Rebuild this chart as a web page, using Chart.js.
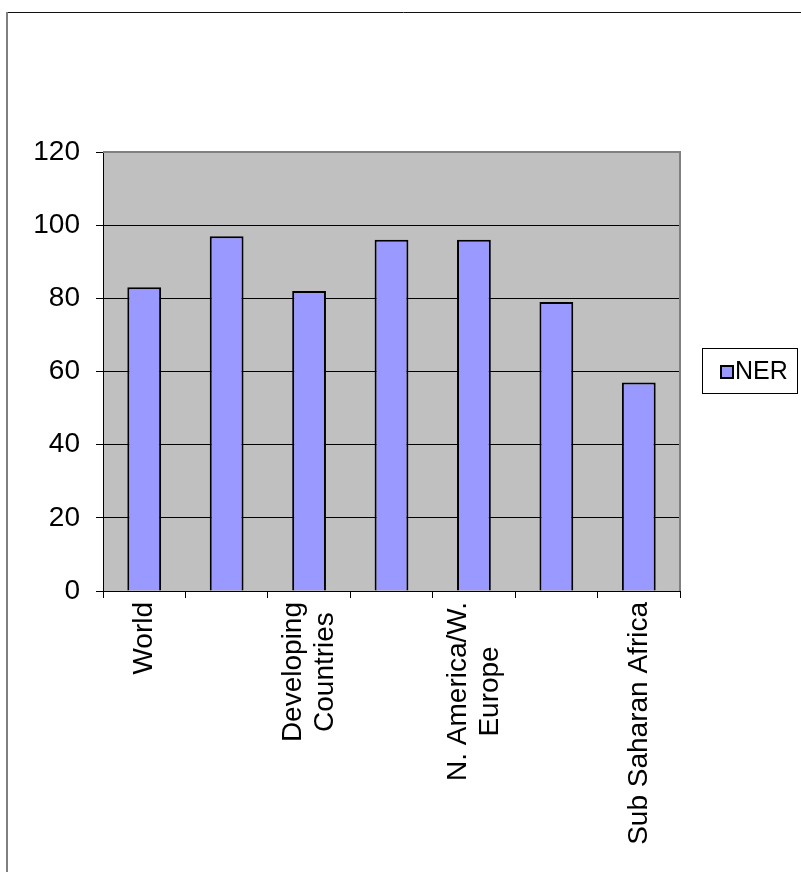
<!DOCTYPE html>
<html>
<head>
<meta charset="utf-8">
<script src="https://cdn.jsdelivr.net/npm/chart.js@4"></script>
<style>
  html, body { margin: 0; padding: 0; background: #ffffff; }
  #wrap { width: 801px; height: 872px; }
</style>
</head>
<body>
<div id="wrap"><canvas id="c" width="801" height="872"></canvas></div>
<script>
// Net enrolment ratio by region
const categories = [
  ["World"],
  [""],
  ["Developing", "Countries"],
  [""],
  ["N. America/W.", "Europe"],
  [""],
  ["Sub Saharan Africa"]
];
const nerValues = [83, 97, 82, 96, 96, 79, 57];
const yTicks = [0, 20, 40, 60, 80, 100, 120];
const seriesName = "NER";

const FONT = '"Liberation Sans", Arial, sans-serif';
const BAR_FILL = '#9999FF';
const PLOT_FILL = '#C0C0C0';

// Page frame, plot background, plot border, category labels and legend box
const decor = {
  id: 'decor',
  beforeDraw(chart) {
    const { ctx, chartArea: a } = chart;
    ctx.save();
    ctx.fillStyle = '#ffffff';
    ctx.fillRect(0, 0, chart.width, chart.height);
    // outer frame
    ctx.strokeStyle = '#111111';
    ctx.lineWidth = 1;
    ctx.beginPath();
    ctx.moveTo(6, 12.5);
    ctx.lineTo(chart.width, 12.5);
    ctx.stroke();
    ctx.strokeStyle = '#808080';
    ctx.lineWidth = 2;
    ctx.beginPath();
    ctx.moveTo(7, 12);
    ctx.lineTo(7, chart.height);
    ctx.stroke();
    // plot area
    ctx.fillStyle = PLOT_FILL;
    ctx.fillRect(a.left, a.top, a.right - a.left, a.bottom - a.top);
    ctx.restore();
  },
  afterDraw(chart) {
    const { ctx, chartArea: a } = chart;
    ctx.save();
    // plot border (top and right)
    ctx.strokeStyle = '#808080';
    ctx.lineWidth = 2;
    ctx.beginPath();
    ctx.moveTo(a.left, a.top);
    ctx.lineTo(a.right, a.top);
    ctx.lineTo(a.right, a.bottom);
    ctx.stroke();

    // rotated category labels, lines centred within each block
    const xs = chart.scales.x;
    ctx.font = '28px ' + FONT;
    ctx.fillStyle = '#000000';
    ctx.textAlign = 'center';
    ctx.textBaseline = 'middle';
    const lh = 32;
    categories.forEach((lines, i) => {
      const px = xs.getPixelForTick(i);
      const maxW = Math.max(...lines.map(l => ctx.measureText(l).width));
      const cy = xs.top + 11 + maxW / 2;
      ctx.save();
      ctx.translate(px, cy);
      ctx.rotate(-Math.PI / 2);
      lines.forEach((l, j) => {
        ctx.fillText(l, 0, (j - (lines.length - 1) / 2) * lh);
      });
      ctx.restore();
    });

    // legend
    const ds = chart.data.datasets[0];
    ctx.strokeStyle = '#000000';
    ctx.lineWidth = 1;
    ctx.strokeRect(702.5, 348.5, 95, 45);
    ctx.fillStyle = ds.backgroundColor;
    ctx.fillRect(721, 366, 12, 12);
    ctx.lineWidth = 2;
    ctx.strokeRect(721, 366, 12, 12);
    ctx.fillStyle = '#000000';
    ctx.font = '25px ' + FONT;
    ctx.textAlign = 'left';
    ctx.textBaseline = 'alphabetic';
    ctx.fillText(ds.label, 735, 379);
    ctx.restore();
  }
};

new Chart(document.getElementById('c'), {
  type: 'bar',
  data: {
    labels: categories,
    datasets: [{
      label: seriesName,
      data: nerValues,
      backgroundColor: BAR_FILL,
      borderColor: '#000000',
      borderWidth: 2,
      barPercentage: 0.41,
      categoryPercentage: 1.0
    }]
  },
  options: {
    responsive: false,
    devicePixelRatio: 1,
    animation: false,
    layout: { padding: { left: 6, top: 152, right: 121, bottom: 0 } },
    plugins: {
      legend: { display: false },
      tooltip: { enabled: false },
      title: { display: false }
    },
    scales: {
      x: {
        grid: {
          offset: true,
          drawOnChartArea: false,
          drawTicks: true,
          tickLength: 7,
          color: '#000000',
          tickColor: '#000000',
          lineWidth: 1
        },
        border: { display: true, color: '#000000', width: 1 },
        ticks: { display: false },
        afterFit(s) { s.height = 281; }
      },
      y: {
        min: 0,
        max: 120,
        afterBuildTicks(s) { s.ticks = yTicks.map(v => ({ value: v })); },
        grid: {
          color: ctx => (ctx.tick && ctx.tick.value === 120) ? 'rgba(0,0,0,0)' : '#000000',
          tickColor: '#000000',
          tickLength: 7,
          lineWidth: 1
        },
        border: { display: true, color: '#000000', width: 1 },
        ticks: {
          font: { family: FONT, size: 28 },
          color: '#000000',
          padding: 16
        },
        afterFit(s) { s.width = 97; }
      }
    }
  },
  plugins: [decor]
});
</script>
</body>
</html>
